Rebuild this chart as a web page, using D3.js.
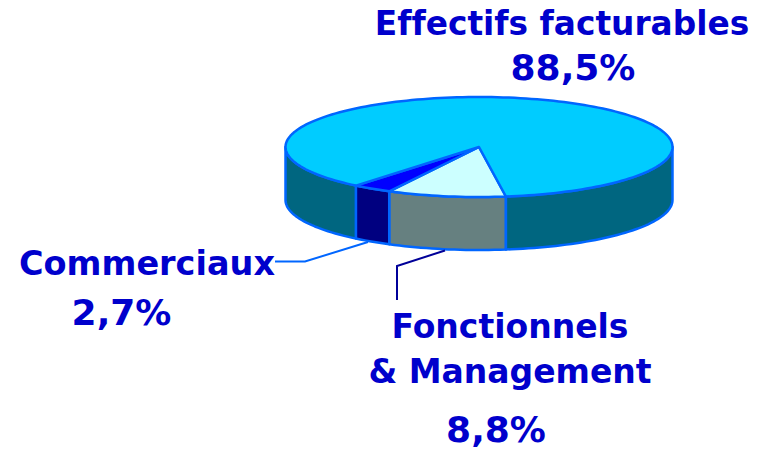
<html>
<head>
<meta charset="utf-8">
<title>Effectifs</title>
<script src="https://d3js.org/d3.v7.min.js"></script>
<style>
html, body { margin: 0; padding: 0; background: #fff; }
svg { display: block; }
text { font-family: "DejaVu Sans", sans-serif; font-weight: bold; fill: #0000cc; font-variant-ligatures: none; }
</style>
</head>
<body>
<svg id="chart" width="763" height="449"></svg>
<script>

// percentages printed on the chart
var categories = ["Fonctionnels & Management", "Commerciaux", "Effectifs facturables"];
var shares = [8.8, 2.7, 88.5];
var drawnSweep = [9.9, 3.3, 86.8];
var topColors = ["#ccffff", "#0000ff", "#00ccff"];
var sideColors = ["#668080", "#000080", "#006680"];

var width = 763, height = 449;
var cx = 479, cy = 147, rx = 193.5, ry = 50, depth = 53;
var outline = "#0066ff";

var svg = d3.select("#chart");

var pie = d3.pie().sort(null).startAngle(172 * Math.PI / 180).endAngle((172 + 360) * Math.PI / 180);
var slices = pie(drawnSweep);

function pt(a, dy) {
  return [cx + rx * Math.sin(a), cy - ry * Math.cos(a) + dy];
}

function arcPoints(a0, a1, dy) {
  var n = Math.max(2, Math.ceil(Math.abs(a1 - a0) / 0.03));
  return d3.range(n + 1).map(function(i) {
    return pt(a0 + (a1 - a0) * i / n, dy);
  });
}

var line = d3.line();

// side walls, only the part facing us (90deg to 270deg)
var TAU = Math.PI * 2;
slices.forEach(function(s, i) {
  [0, TAU].forEach(function(shift) {
    var a0 = Math.max(s.startAngle, Math.PI / 2 + shift);
    var a1 = Math.min(s.endAngle, Math.PI * 1.5 + shift);
    if (a1 <= a0) return;
    var pts = arcPoints(a0, a1, 0).concat(arcPoints(a1, a0, depth));
    svg.append("path")
      .attr("d", line(pts) + "Z")
      .attr("fill", sideColors[i])
      .attr("stroke", outline)
      .attr("stroke-width", 2.5)
      .attr("stroke-linejoin", "round");
  });
});

// top faces
slices.forEach(function(s, i) {
  var pts = [[cx, cy]].concat(arcPoints(s.startAngle, s.endAngle, 0));
  svg.append("path")
    .attr("d", line(pts) + "Z")
    .attr("fill", topColors[i])
    .attr("stroke", outline)
    .attr("stroke-width", 2.5)
    .attr("stroke-linejoin", "round");
});

// leader lines
svg.append("path")
  .attr("d", line([[275, 261.5], [305, 261.5], [368, 242]]))
  .attr("fill", "none").attr("stroke", outline).attr("stroke-width", 2);
svg.append("path")
  .attr("d", line([[397, 300], [397, 266], [445, 250.5]]))
  .attr("fill", "none").attr("stroke", "#000099").attr("stroke-width", 2);

function fmt(v) {
  return String(v).replace(".", ",") + "%";
}

function label(txt, x, y, size) {
  svg.append("text")
    .attr("x", x).attr("y", y)
    .attr("text-anchor", "middle")
    .style("font-size", size + "px")
    .text(txt);
}

label(categories[2], 562, 35, 32.8);
label(fmt(shares[2]), 573, 80, 36);
label(categories[1], 147, 275, 33.5);
label(fmt(shares[1]), 121.5, 325, 36);
label("Fonctionnels", 510, 338, 33);
label("& Management", 510, 383, 33);
label(fmt(shares[0]), 496, 442, 36);

</script>
</body>
</html>
